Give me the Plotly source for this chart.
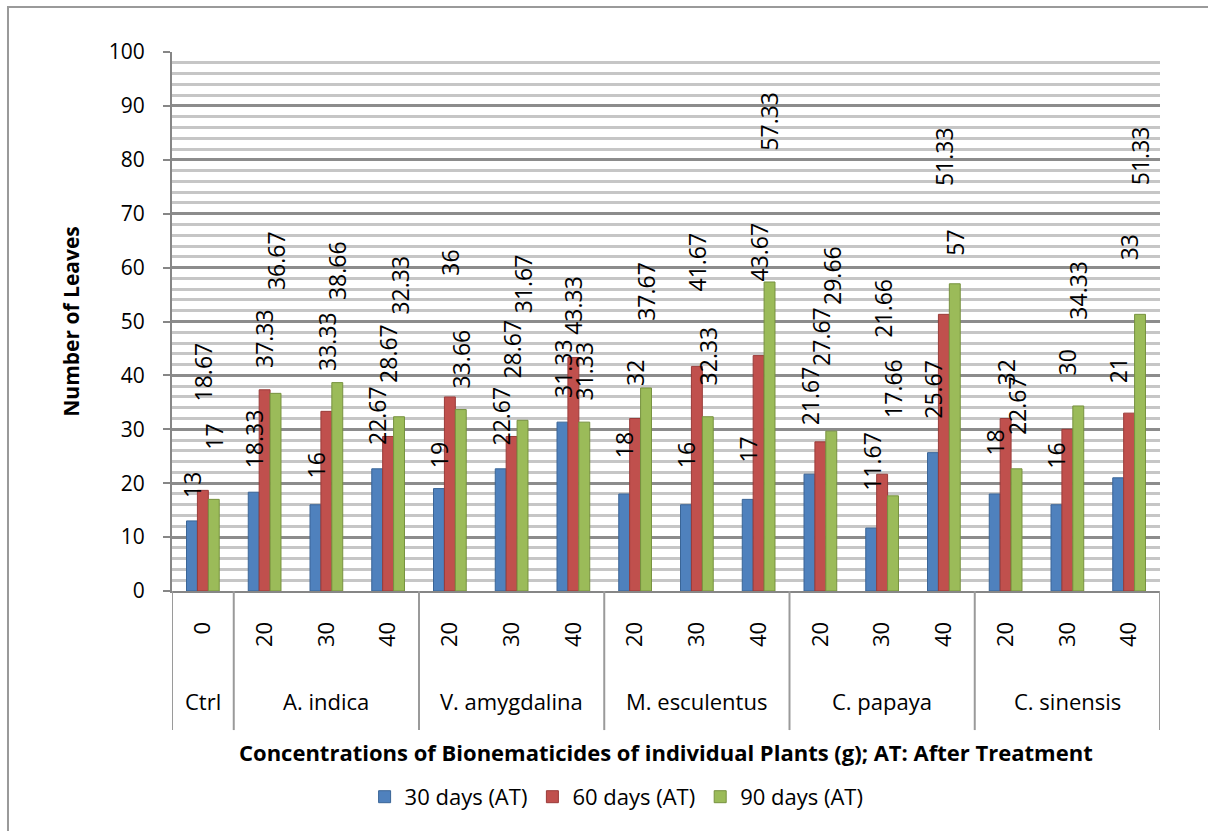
import plotly.graph_objects as go

# Plant extracts and the concentrations (g) applied for each
groups = ["Ctrl", "A. indica", "V. amygdalina", "M. esculentus", "C. papaya", "C. sinensis"]
concentrations = [[0], [20, 30, 40], [20, 30, 40], [20, 30, 40], [20, 30, 40], [20, 30, 40]]

series_names = ["30 days (AT)", "60 days (AT)", "90 days (AT)"]

# Mean number of leaves, one value per (plant, concentration)
days_30 = [13, 18.33, 16, 22.67, 19, 22.67, 31.33, 18, 16, 17, 21.67, 11.67, 25.67, 18, 16, 21]
days_60 = [18.67, 37.33, 33.33, 28.67, 36, 28.67, 43.33, 32, 41.67, 43.67, 27.67, 21.66, 51.33, 32, 30, 33]
days_90 = [17, 36.67, 38.66, 32.33, 33.66, 31.67, 31.33, 37.67, 32.33, 57.33, 29.66, 17.66, 57, 22.67, 34.33, 51.33]

# How far above each bar its value label sits (axis units)
lift_30 = [3.9, 4.1, 4.6, 4.0, 3.4, 4.0, 4.1, 6.3, 6.4, 6.4, 8.7, 6.5, 6.0, 6.7, 6.4, 17.2]
lift_60 = [16.2, 3.7, 7.1, 9.5, 22.1, 10.4, 3.8, 5.7, 13.6, 13.4, 13.7, 24.9, 23.5, 5.7, 9.7, 28.0]
lift_90 = [8.8, 18.8, 14.9, 18.5, 3.6, 19.5, 3.6, 12.0, 5.5, 24.0, 23.0, 14.0, 4.8, 5.9, 15.6, 23.5]

colors = ["#4F81BD", "#C0504D", "#9BBB59"]
edge_colors = ["#3A6597", "#9A3B39", "#77923F"]
FONT = "'Open Sans', 'Noto Sans', sans-serif"

# unique category keys and their short tick texts
keys, tick_text, group_span = [], [], []
for g, concs in zip(groups, concentrations):
    start = len(keys)
    for c in concs:
        keys.append(f"{g} {c}")
        tick_text.append(str(c))
    group_span.append((start, len(keys) - 1))

values = [days_30, days_60, days_90]
lifts = [lift_30, lift_60, lift_90]

fig = go.Figure()
for name, vals, col, edge in zip(series_names, values, colors, edge_colors):
    fig.add_trace(go.Bar(
        x=keys, y=vals, name=name,
        marker=dict(color=col, line=dict(color=edge, width=1)),
    ))

# plot geometry used to place bar-relative annotations
W, H = 1208, 831
ML, MR, MT, MB = 172, 48, 52, 240
plot_w = W - ML - MR
bargap = 0.47
bar_px = plot_w / len(keys) * (1 - bargap) / 3

annotations = []
for i, (vals, lf) in enumerate(zip(values, lifts)):
    for k, v, d in zip(keys, vals, lf):
        annotations.append(dict(
            x=k, y=v + d, xref="x", yref="y",
            text=f"{v:g}", textangle=-90, showarrow=False,
            xanchor="center", yanchor="bottom", xshift=(i - 1) * bar_px,
            font=dict(family=FONT, size=23, color="black"),
        ))

# group names beneath the concentration ticks
for g, (a, b) in zip(groups, group_span):
    annotations.append(dict(
        x=(a + b) / 2, y=-0.204, xref="x", yref="paper",
        text=g, showarrow=False, xanchor="center", yanchor="middle",
        font=dict(family=FONT, size=22, color="black"),
    ))

annotations.append(dict(
    x=0.5, y=-0.299, xref="paper", yref="paper", showarrow=False,
    text="<b>Concentrations of Bionematicides of individual Plants (g); AT: After Treatment</b>",
    xanchor="center", yanchor="middle",
    font=dict(family=FONT, size=22, color="black"),
))
annotations.append(dict(
    x=-0.103, y=0.5, xref="paper", yref="paper", showarrow=False,
    text="<b>Number of Leaves</b>", textangle=-90,
    xanchor="center", yanchor="middle",
    font=dict(family=FONT, size=21, color="black"),
))

shapes = []
# dividers between plant groups in the category area
bounds = [-0.5] + [b + 0.5 for (_, b) in group_span]
for bx in bounds:
    shapes.append(dict(type="line", xref="x", yref="paper",
                       x0=bx, x1=bx, y0=0, y1=-0.258,
                       line=dict(color="#9a9a9a", width=2)))
# chart frame
shapes.append(dict(type="rect", xref="paper", yref="paper",
                   x0=-0.166, x1=1.06, y0=-0.45, y1=1.0835,
                   line=dict(color="#9a9a9a", width=2), layer="below"))

fig.update_layout(
    width=W, height=H,
    margin=dict(l=ML, r=MR, t=MT, b=MB),
    paper_bgcolor="white", plot_bgcolor="white",
    barmode="group", bargap=bargap, bargroupgap=0,
    font=dict(family=FONT, size=20, color="black"),
    showlegend=True,
    legend=dict(orientation="h", x=0.45, xanchor="center", y=-0.382, yanchor="middle",
                font=dict(family=FONT, size=22, color="black"), bgcolor="rgba(0,0,0,0)"),
    annotations=annotations,
    shapes=shapes,
)

fig.update_xaxes(
    type="category", categoryorder="array", categoryarray=keys,
    tickvals=keys, ticktext=tick_text, tickangle=-90,
    ticks="", ticklabelstandoff=20,
    tickfont=dict(family=FONT, size=22, color="black"),
    showgrid=False, showline=True, linecolor="#868686", linewidth=2,
    range=[-0.5, len(keys) - 0.5],
)
fig.update_yaxes(
    range=[0, 100], dtick=10, tick0=0,
    showgrid=True, gridcolor="#8c8c8c", gridwidth=2.5,
    minor=dict(dtick=2, showgrid=True, gridcolor="#c6c6c6", gridwidth=2.5),
    zeroline=False,
    showline=True, linecolor="#868686", linewidth=2,
    ticks="outside", ticklen=7, tickwidth=2, tickcolor="#868686",
    ticklabelstandoff=14,
    tickfont=dict(family=FONT, size=21, color="black"),
)

fig.write_html("out.html")
